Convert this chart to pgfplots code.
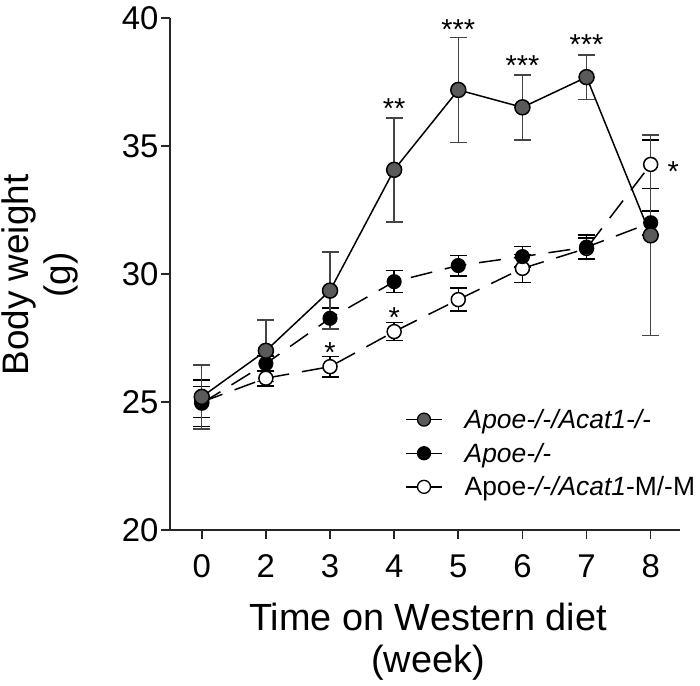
\documentclass[border=0pt]{standalone}
\usepackage{fontspec}
\setmainfont{Liberation Sans}
\usepackage{pgfplots}
\usepackage{pgfplotstable}
\pgfplotsset{compat=1.18}
\definecolor{gfill}{HTML}{5A5A5A}
\definecolor{ebgray}{HTML}{444444}

\pgfplotstableread{
x y e
0 25.20 1.25
1 27.00 1.20
2 29.35 1.50
3 34.07 2.03
4 37.19 2.05
5 36.51 1.27
6 37.69 0.87
7 31.51 3.92
}\dko

\pgfplotstableread{
x y e
0 24.95 0.90
1 26.50 0.30
2 28.27 0.40
3 29.70 0.43
4 30.33 0.40
5 30.68 0.40
6 31.05 0.47
7 32.00 0.47
}\apoe

\pgfplotstableread{
x y e
0 25.00 0.60
1 25.93 0.30
2 26.38 0.40
3 27.75 0.35
4 29.00 0.45
5 30.22 0.55
6 31.00 0.40
7 34.28 0.95
}\mko

\begin{document}
\begin{tikzpicture}
\begin{axis}[
  scale only axis,
  width=510bp, height=512bp,
  xmin=-0.495, xmax=7.457,
  ymin=20, ymax=40,
  axis x line*=bottom, axis y line*=left,
  axis line style={-, line width=1.6bp, black!85},
  tick style={line width=1.6bp, black!85},
  tick align=outside,
  major tick length=9bp,
  xtick={0,...,7},
  xticklabels={0,2,3,4,5,6,7,8},
  ytick={20,25,30,35,40},
  /pgf/number format/assume math mode=true,
  ticklabel style={font=\fontsize{33}{38}\selectfont},
  xticklabel style={yshift=-12bp},
  yticklabel style={xshift=1bp},
  clip=false,
  legend cell align=left,
  legend style={at={(axis description cs:0.461,0.24)}, anchor=north west,
    draw=none, fill=none, font=\fontsize{26.5}{32}\selectfont,
    row sep=9bp, inner sep=0pt,
    /tikz/every odd column/.append style={column sep=20bp}},
  legend image code/.code={
    \draw[#1, solid, mark repeat=2, mark phase=2]
      plot coordinates {(0bp,0bp) (18bp,0bp) (36bp,0bp)};},
]
\addlegendimage{black, line width=1.4bp, mark=*, mark size=6.5bp, mark options={fill=gfill, draw=black, line width=1.3bp}}
\addlegendentry{\textit{Apoe-/-/Acat1-/-}}
\addlegendimage{black, line width=1.4bp, mark=*, mark size=6.5bp, mark options={fill=black, draw=black, line width=1.3bp}}
\addlegendentry{\textit{Apoe-/-}}
\addlegendimage{black, line width=1.4bp, mark=*, mark size=6.5bp, mark options={fill=white, draw=black, line width=1.3bp}}
\addlegendentry{Apoe\textit{-/-/Acat1}-M/-M}

% Apoe-/-/Acat1-M/-M (open)
\addplot[forget plot, black, line width=1.5bp, dash pattern=on 22bp off 13bp,
  mark=*, mark size=7bp, mark options={solid, fill=white, draw=black, line width=1.5bp},
  error bars/.cd, y dir=both, y explicit,
  error bar style={solid, line width=1.5bp, black},
  error mark options={solid, rotate=90, mark size=8.5bp, line width=1.5bp, black}]
  table[x=x, y=y, y error=e] {\mko};
% Apoe-/- (black)
\addplot[forget plot, black, line width=1.5bp, dash pattern=on 22bp off 13bp,
  mark=*, mark size=6.8bp, mark options={solid, fill=black, draw=black, line width=1.5bp},
  error bars/.cd, y dir=both, y explicit,
  error bar style={solid, line width=1.5bp, black},
  error mark options={solid, rotate=90, mark size=8.5bp, line width=1.5bp, black}]
  table[x=x, y=y, y error=e] {\apoe};
% Apoe-/-/Acat1-/- (gray)
\addplot[forget plot, black, line width=1.5bp,
  mark=*, mark size=7.5bp, mark options={fill=gfill, draw=black, line width=1.5bp},
  error bars/.cd, y dir=both, y explicit,
  error bar style={line width=1.5bp, ebgray},
  error mark options={rotate=90, mark size=8.5bp, line width=1.5bp, ebgray}]
  table[x=x, y=y, y error=e] {\dko};

% significance stars
\begin{scope}[every node/.style={font=\fontsize{29}{30}\selectfont, anchor=base, yshift=-16bp, inner sep=0pt}]
\node at (axis cs:3,36.69) {**};
\node at (axis cs:4,39.79) {***};
\node at (axis cs:5,38.39) {***};
\node at (axis cs:6,39.18) {***};
\node at (axis cs:2,27.16) {*};
\node at (axis cs:3,28.53) {*};
\node at (axis cs:7.35,34.23) {*};
\end{scope}
\end{axis}

\node[font=\fontsize{38}{42}\selectfont, anchor=base]
  at ([xshift=258bp, yshift=-100bp]current axis.south west) {Time on Western diet};
\node[font=\fontsize{38}{42}\selectfont, anchor=base]
  at ([xshift=258bp, yshift=-142bp]current axis.south west) {(week)};
\node[font=\fontsize{37}{42}\selectfont, anchor=base, rotate=90]
  at ([xshift=-141bp, yshift=255bp]current axis.south west) {Body weight};
\node[font=\fontsize{37}{42}\selectfont, anchor=base, rotate=90]
  at ([xshift=-99bp, yshift=255bp]current axis.south west) {(g)};

\pgfresetboundingbox
\path ([xshift=-170bp, yshift=-156bp]current axis.south west)
  rectangle ([xshift=530bp, yshift=530bp]current axis.south west);
\end{tikzpicture}
\end{document}
